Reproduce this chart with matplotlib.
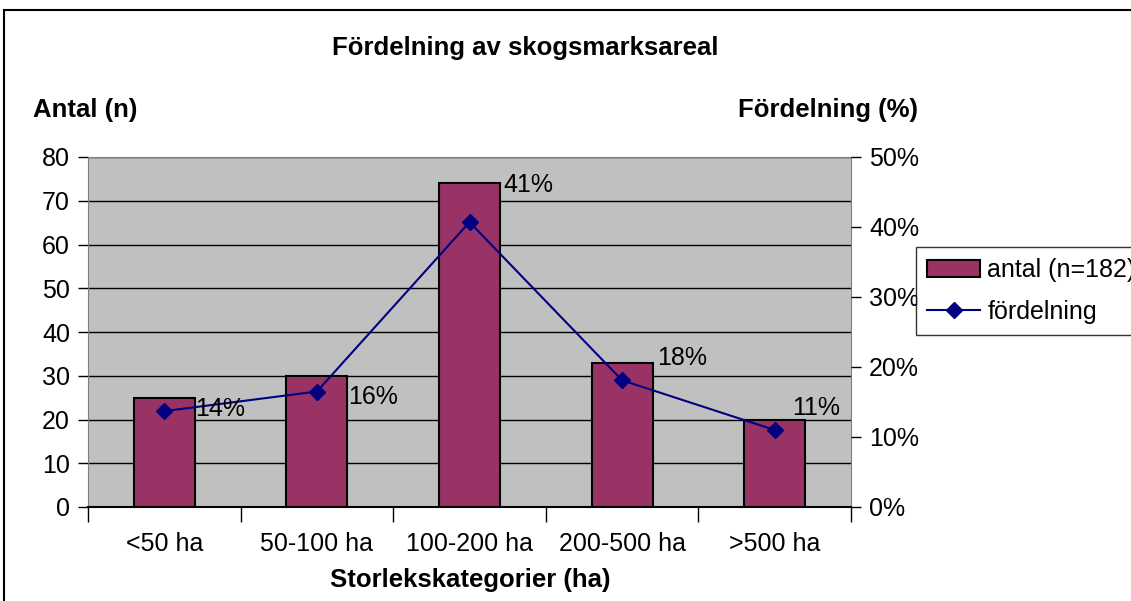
import matplotlib
matplotlib.use("Agg")
import matplotlib.pyplot as plt
from matplotlib.patches import Rectangle
from matplotlib.ticker import FuncFormatter, MultipleLocator

plt.rcParams["font.family"] = ["Liberation Sans", "DejaVu Sans"]
plt.rcParams["font.size"] = 18

categories = ["<50 ha", "50-100 ha", "100-200 ha", "200-500 ha", ">500 ha"]
antal = [25, 30, 74, 33, 20]
fordelning = [0.137, 0.165, 0.407, 0.181, 0.110]
pct_labels = ["14%", "16%", "41%", "18%", "11%"]
# label offsets (pixels) relative to each line point, as Excel placed them
label_offsets = [(31, 2), (31, -6), (34, 37), (35, 22), (17, 22)]

BAR_COLOR = "#993366"
LINE_COLOR = "#000080"
PLOT_BG = "#C0C0C0"

fig = plt.figure(figsize=(11.31, 6.01), dpi=100)
ax = fig.add_axes([88 / 1131, 1 - 507 / 601, (851 - 88) / 1131, (507 - 157) / 601])
ax.set_facecolor(PLOT_BG)

x = list(range(len(categories)))
bars = ax.bar(x, antal, width=0.4, color=BAR_COLOR, edgecolor="black", linewidth=1.5,
              label="antal (n=182)", zorder=3)
ax.set_xlim(-0.5, len(categories) - 0.5)
ax.set_ylim(0, 80)
ax.yaxis.set_major_locator(MultipleLocator(10))
ax.grid(axis="y", color="black", linewidth=1, zorder=1)
ax.set_axisbelow(True)

ax.set_xticks(x)
ax.set_xticklabels(categories)
ax.set_xticks([i - 0.5 for i in range(len(categories) + 1)], minor=True)
ax.tick_params(axis="x", which="major", length=0, pad=18)
ax.tick_params(axis="x", which="minor", length=11, width=1, direction="out")
ax.tick_params(axis="y", length=7, width=1, direction="out", pad=6)

for side in ["left", "right", "top"]:
    ax.spines[side].set_color("#808080")
ax.spines["bottom"].set_color("black")
ax.spines["bottom"].set_linewidth(1.5)

ax2 = ax.twinx()
ax2.set_ylim(0, 0.5)
ax2.yaxis.set_major_locator(MultipleLocator(0.1))
ax2.yaxis.set_major_formatter(FuncFormatter(lambda v, p: f"{round(v * 100):d}%"))
ax2.tick_params(axis="y", length=7, width=1, direction="out", pad=6)
for side in ["left", "right", "top", "bottom"]:
    ax2.spines[side].set_visible(False)
line, = ax2.plot(x, fordelning, color=LINE_COLOR, linewidth=1.5, marker="D",
                 markersize=8, label="fördelning", zorder=4)

for xi, yi, txt, off in zip(x, fordelning, pct_labels, label_offsets):
    ax2.annotate(txt, (xi, yi), xytext=off, textcoords="offset pixels",
                 ha="left", va="center", fontsize=18, zorder=5)

fig.text(525 / 1131, 1 - 48 / 601, "Fördelning av skogsmarksareal",
         ha="center", va="center", fontweight="bold", fontsize=18.5)
fig.text(33 / 1131, 1 - 110 / 601, "Antal (n)", ha="left", va="center",
         fontweight="bold", fontsize=18.5)
fig.text(918 / 1131, 1 - 110 / 601, "Fördelning (%)", ha="right", va="center",
         fontweight="bold", fontsize=18.5)
fig.text(470 / 1131, 1 - 580 / 601, "Storlekskategorier (ha)", ha="center",
         va="center", fontweight="bold", fontsize=18.5)

leg = fig.legend([bars, line], ["antal (n=182)", "fördelning"],
                 loc="upper left", bbox_to_anchor=(916 / 1131, 1 - 247 / 601),
                 frameon=True, fancybox=False, edgecolor="black", fontsize=18,
                 handlelength=2.1, handletextpad=0.3, borderpad=0.45,
                 labelspacing=0.7, borderaxespad=0)
leg.get_frame().set_linewidth(1)

fig.patches.append(Rectangle((4 / 1131, -0.1), 1.2, 1.1 - 10 / 601,
                             transform=fig.transFigure, fill=False,
                             edgecolor="black", linewidth=1.5))

fig.savefig("out.png", dpi=100, facecolor="white")
